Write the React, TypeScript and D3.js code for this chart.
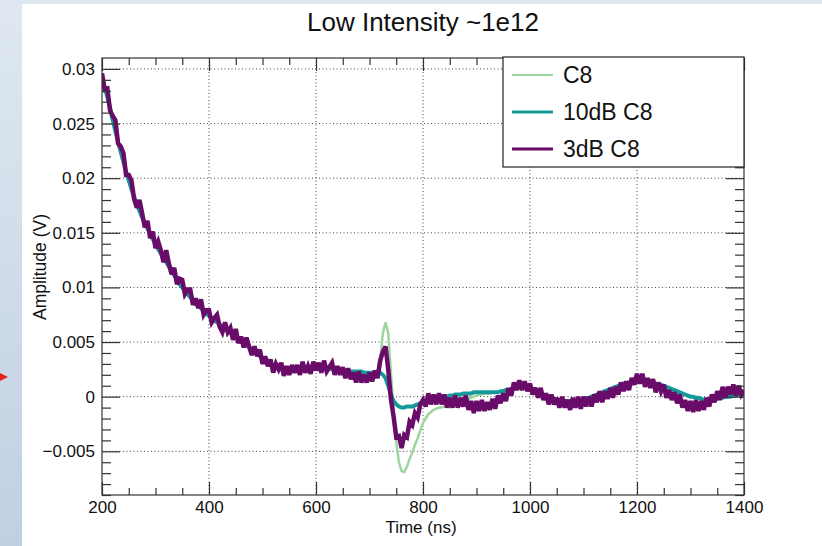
import { useEffect, useRef } from "react";
import * as d3 from "d3";

// sample times (ns), one point every 5 ns
const timeNs = d3.range(200, 1401, 5);

// C8 (plain)
const c8 = [
  .0292, .0283, .0274, .0265, .0253, .0243, .0233, .0224, .0215, .0206,
  .0198, .0190, .0183, .0176, .0170, .0164, .0159, .0154, .0149, .0144,
  .0140, .0135, .0131, .0127, .0123, .0119, .0115, .0111, .0107, .0103,
  .0100, .0097, .0094, .0091, .0088, .0085, .0083, .0081, .0078, .0076,
  .0074, .0072, .0070, .0068, .0066, .0064, .0062, .0060, .0058, .0056,
  .0054, .0052, .0051, .0049, .0047, .0045, .0043, .0041, .0039, .0037,
  .0035, .0033, .0031, .0029, .0028, .0027, .0026, .0025, .0024, .0024,
  .0024, .0024, .0024, .0025, .0025, .0025, .0026, .0026, .0026, .0026,
  .0026, .0026, .0026, .0026, .0026, .0026, .0025, .0025, .0025, .0024,
  .0024, .0024, .0024, .0023, .0023, .0023, .0023, .0023, .0022, .0022,
  .0022, .0022, .0022, .0024, .0035, .0058, .0068, .0058, .0022, -.0012,
  -.0042, -.0060, -.0068, -.0069, -.0064, -.0057, -.0051, -.0044, -.0038, -.0031,
  -.0024, -.0020, -.0016, -.0014, -.0012, -.0011, -.0010, -.0010, -.0009, -.0009,
  -.0009, -.0008, -.0007, -.0006, -.0005, -.0004, -.0003, -.0002, -.0001, 0,
  .0001, .0002, .0002, .0003, .0003, .0003, .0004, .0004, .0004, .0005,
  .0005, .0006, .0006, .0007, .0008, .0008, .0009, .0009, .0009, .0009,
  .0008, .0007, .0006, .0005, .0004, .0002, .0001, 0, -.0001, -.0002,
  -.0003, -.0003, -.0004, -.0004, -.0004, -.0004, -.0004, -.0004, -.0003, -.0003,
  -.0002, -.0002, -.0001, 0, .0001, .0002, .0003, .0004, .0005, .0006,
  .0007, .0008, .0009, .0010, .0011, .0012, .0012, .0013, .0013, .0014,
  .0014, .0014, .0014, .0014, .0013, .0013, .0012, .0012, .0011, .0011,
  .0010, .0009, .0008, .0007, .0006, .0005, .0004, .0003, .0002, .0001,
  0, 0, -.0001, -.0001, -.0002, -.0003, -.0003, -.0003, -.0003, -.0002,
  -.0002, -.0001, -.0001, 0, 0, 0, .0001, .0001, .0002, .0002,
  .0002,
];

// 10dB C8
const c8Att10 = [
  .0292, .0283, .0274, .0265, .0253, .0243, .0233, .0224, .0215, .0206,
  .0198, .0190, .0183, .0176, .0170, .0164, .0159, .0154, .0149, .0144,
  .0140, .0135, .0131, .0127, .0123, .0119, .0115, .0111, .0107, .0103,
  .0100, .0097, .0094, .0091, .0088, .0085, .0083, .0081, .0078, .0076,
  .0074, .0072, .0070, .0068, .0066, .0064, .0062, .0060, .0058, .0056,
  .0054, .0052, .0051, .0049, .0047, .0045, .0043, .0041, .0039, .0037,
  .0035, .0033, .0031, .0029, .0028, .0027, .0026, .0025, .0024, .0024,
  .0024, .0024, .0024, .0025, .0025, .0025, .0026, .0026, .0026, .0026,
  .0026, .0026, .0026, .0026, .0026, .0026, .0025, .0025, .0025, .0024,
  .0024, .0024, .0024, .0023, .0023, .0023, .0023, .0023, .0022, .0022,
  .0022, .0022, .0022, .0022, .0022, .0020, .0017, .0010, .0002, -.0004,
  -.0007, -.0009, -.0010, -.0010, -.0009, -.0009, -.0009, -.0008, -.0007, -.0006,
  -.0005, -.0004, -.0004, -.0003, -.0002, -.0002, -.0001, -.0001, 0, 0,
  .0001, .0001, .0002, .0002, .0002, .0003, .0003, .0003, .0003, .0004,
  .0004, .0004, .0004, .0004, .0004, .0004, .0004, .0004, .0004, .0005,
  .0005, .0006, .0006, .0007, .0008, .0008, .0009, .0009, .0009, .0009,
  .0008, .0007, .0006, .0005, .0004, .0002, .0001, 0, -.0001, -.0002,
  -.0003, -.0003, -.0004, -.0004, -.0004, -.0004, -.0004, -.0004, -.0003, -.0003,
  -.0002, -.0002, -.0001, 0, .0001, .0002, .0003, .0004, .0005, .0006,
  .0007, .0008, .0009, .0010, .0011, .0012, .0012, .0013, .0013, .0014,
  .0014, .0014, .0014, .0014, .0013, .0013, .0012, .0012, .0011, .0011,
  .0010, .0009, .0008, .0007, .0006, .0005, .0004, .0003, .0002, .0001,
  0, 0, -.0001, -.0001, -.0002, -.0003, -.0003, -.0003, -.0003, -.0002,
  -.0002, -.0001, -.0001, 0, 0, 0, .0001, .0001, .0002, .0002,
  .0002,
];

// 3dB C8 (noisy)
const c8Att3 = [
  .0296, .0281, .0282, .0262, .0257, .0253, .0232, .0229, .0223, .0203,
  .0203, .0198, .0181, .0173, .0180, .0168, .0155, .0161, .0145, .0151,
  .0136, .0142, .0134, .0123, .0134, .0122, .0112, .0118, .0103, .0108,
  .0107, .0094, .0098, .0098, .0084, .0090, .0081, .0089, .0075, .0079,
  .0079, .0068, .0072, .0075, .0064, .0059, .0068, .0059, .0063, .0052,
  .0062, .0049, .0055, .0045, .0054, .0046, .0038, .0046, .0037, .0043,
  .0030, .0037, .0028, .0034, .0022, .0030, .0025, .0031, .0019, .0028,
  .0020, .0029, .0022, .0029, .0020, .0032, .0022, .0028, .0021, .0032,
  .0024, .0031, .0022, .0033, .0023, .0027, .0031, .0020, .0028, .0020,
  .0027, .0017, .0026, .0016, .0022, .0013, .0023, .0013, .0020, .0013,
  .0022, .0014, .0024, .0017, .0033, .0041, .0046, .0025, -.0002, -.0018,
  -.0037, -.0036, -.0047, -.0035, -.0037, -.0023, -.0026, -.0015, -.0019, -.0007,
  -.0003, -.0009, .0003, -.0007, .0002, -.0007, .0003, -.0007, .0002, -.0010,
  -.0001, -.0010, .0001, -.0010, -.0001, -.0009, .0001, -.0012, -.0004, -.0015,
  -.0004, -.0013, -.0003, -.0013, -.0005, -.0012, -.0002, -.0011, .0001, -.0006,
  .0003, -.0004, .0008, .0001, .0013, .0006, .0015, .0006, .0014, .0005,
  .0012, .0002, .0008, -.0001, .0008, -.0003, .0003, -.0007, .0002, -.0007,
  -.0001, -.0010, 0, -.0010, -.0003, -.0012, -.0001, -.0010, 0, -.0011,
  0, -.0009, 0, -.0009, .0002, -.0005, .0005, -.0005, .0005, -.0002,
  .0008, -.0001, .0009, .0002, .0013, .0005, .0014, .0006, .0017, .0011,
  .0021, .0012, .0021, .0009, .0017, .0008, .0016, .0004, .0013, .0005,
  .0011, -.0001, .0006, -.0003, .0004, -.0006, .0002, -.0010, -.0003, -.0013,
  -.0004, -.0014, -.0003, -.0013, -.0004, -.0012, -.0001, -.0009, .0002, -.0005,
  .0005, -.0003, .0009, -.0001, .0009, .0002, .0011, .0001, .0010, .0002,
  .0006,
];

const seriesNames = ["C8", "10dB C8", "3dB C8"];
const seriesValues = [c8, c8Att10, c8Att3];
const seriesColors = ["#9dd59f", "#14999a", "#690b69"];
const seriesWidths = [2.5, 4, 4.5];
const legendWidths = [2, 3, 3];

const xMajorTicks = [200, 400, 600, 800, 1000, 1200, 1400];
const xTickLabels = ["200", "400", "600", "800", "1000", "1200", "1400"];
const yMajorTicks = [-0.005, 0, 0.005, 0.01, 0.015, 0.02, 0.025, 0.03];
const yTickLabels = ["\u22120.005", "0", "0.005", "0.01", "0.015", "0.02", "0.025", "0.03"];

const W = 822;
const H = 546;
const FONT = "'Liberation Sans', Arial, Helvetica, sans-serif";

const App = () => {
  const svgRef = useRef<SVGSVGElement>(null);

  useEffect(() => {
    const svg = d3.select(svgRef.current);
    svg.selectAll("*").remove();

    const left = 102, right = 744, top = 58, bottom = 495;

    // background (window chrome strip + white canvas)
    const defs = svg.append("defs");
    const grad = defs
      .append("linearGradient")
      .attr("id", "chrome")
      .attr("x1", 0).attr("y1", 0).attr("x2", 0).attr("y2", 1);
    grad.append("stop").attr("offset", "0%").attr("stop-color", "#dfe8f1");
    grad.append("stop").attr("offset", "100%").attr("stop-color", "#c0d0e1");
    defs
      .append("clipPath")
      .attr("id", "frame-clip")
      .append("rect")
      .attr("x", left).attr("y", top)
      .attr("width", right - left).attr("height", bottom - top);

    svg.append("rect").attr("width", W).attr("height", H).attr("fill", "url(#chrome)");
    svg.append("rect").attr("x", 22).attr("y", 4).attr("width", W - 22).attr("height", H - 4).attr("fill", "#fff");
    svg.append("path").attr("d", "M0,373 L8,377 L0,381 Z").attr("fill", "#e5251b");

    // scales
    const xScale = d3.scaleLinear().domain([200, 1400]).range([left, right]);
    const yScale = d3.scaleLinear().domain([-0.009, 0.031]).range([bottom, top]);

    // grid
    const grid = svg.append("g").attr("stroke", "#444").attr("stroke-width", 1).attr("stroke-dasharray", "1 2.5");
    grid
      .selectAll(".gx")
      .data(xMajorTicks.slice(1, -1))
      .join("line")
      .attr("x1", (d) => xScale(d)).attr("x2", (d) => xScale(d))
      .attr("y1", top).attr("y2", bottom);
    grid
      .selectAll(".gy")
      .data(yMajorTicks)
      .join("line")
      .attr("x1", left).attr("x2", right)
      .attr("y1", (d) => yScale(d)).attr("y2", (d) => yScale(d));

    // curves
    const line = d3
      .line<number>()
      .x((d, i) => xScale(timeNs[i]))
      .y((d) => yScale(d));
    svg
      .append("g")
      .attr("clip-path", "url(#frame-clip)")
      .selectAll("path")
      .data(seriesValues)
      .join("path")
      .attr("d", (d) => line(d))
      .attr("fill", "none")
      .attr("stroke", (d, i) => seriesColors[i])
      .attr("stroke-width", (d, i) => seriesWidths[i])
      .attr("stroke-linejoin", "miter")
      .attr("stroke-miterlimit", 3);

    // axes (ticks point inward, ROOT style)
    const xMinor = d3.range(200, 1401, 50).filter((v) => v % 200 !== 0);
    const yMinor = d3.range(-9, 31).filter((v) => v % 5 !== 0).map((v) => v / 1000);
    const styleAxis = (g: any) => {
      g.select(".domain").remove();
      g.selectAll("line").attr("stroke", "#333").attr("stroke-width", 1.2);
      g.selectAll("text").attr("fill", "#111").attr("font-size", 17).attr("font-family", FONT);
    };

    svg.append("g").attr("transform", `translate(0,${bottom})`)
      .call(d3.axisBottom(xScale).tickValues(xMajorTicks).tickSizeInner(-13).tickSizeOuter(0).tickPadding(6)
        .tickFormat((d, i) => xTickLabels[i]))
      .call(styleAxis);
    svg.append("g").attr("transform", `translate(0,${bottom})`)
      .call(d3.axisBottom(xScale).tickValues(xMinor).tickSizeInner(-7).tickSizeOuter(0).tickFormat(() => ""))
      .call(styleAxis);
    svg.append("g").attr("transform", `translate(0,${top})`)
      .call(d3.axisTop(xScale).tickValues(xMajorTicks).tickSizeInner(-13).tickSizeOuter(0).tickFormat(() => ""))
      .call(styleAxis);
    svg.append("g").attr("transform", `translate(0,${top})`)
      .call(d3.axisTop(xScale).tickValues(xMinor).tickSizeInner(-7).tickSizeOuter(0).tickFormat(() => ""))
      .call(styleAxis);

    svg.append("g").attr("transform", `translate(${left},0)`)
      .call(d3.axisLeft(yScale).tickValues(yMajorTicks).tickSizeInner(-18).tickSizeOuter(0).tickPadding(7)
        .tickFormat((d, i) => yTickLabels[i]))
      .call(styleAxis);
    svg.append("g").attr("transform", `translate(${left},0)`)
      .call(d3.axisLeft(yScale).tickValues(yMinor).tickSizeInner(-9).tickSizeOuter(0).tickFormat(() => ""))
      .call(styleAxis);
    svg.append("g").attr("transform", `translate(${right},0)`)
      .call(d3.axisRight(yScale).tickValues(yMajorTicks).tickSizeInner(-18).tickSizeOuter(0).tickFormat(() => ""))
      .call(styleAxis);
    svg.append("g").attr("transform", `translate(${right},0)`)
      .call(d3.axisRight(yScale).tickValues(yMinor).tickSizeInner(-9).tickSizeOuter(0).tickFormat(() => ""))
      .call(styleAxis);

    // frame
    svg.append("rect")
      .attr("x", left).attr("y", top)
      .attr("width", right - left).attr("height", bottom - top)
      .attr("fill", "none").attr("stroke", "#333").attr("stroke-width", 1.2);

    // titles
    svg.append("text")
      .attr("x", 423).attr("y", 31)
      .attr("text-anchor", "middle")
      .attr("font-family", FONT).attr("font-size", 26).attr("fill", "#111")
      .text("Low Intensity ~1e12");
    svg.append("text")
      .attr("x", 421).attr("y", 533)
      .attr("text-anchor", "middle")
      .attr("font-family", FONT).attr("font-size", 17).attr("fill", "#111")
      .text("Time (ns)");
    svg.append("text")
      .attr("transform", "translate(46,267) rotate(-90)")
      .attr("text-anchor", "middle")
      .attr("font-family", FONT).attr("font-size", 17.5).attr("fill", "#111")
      .text("Amplitude (V)");

    // legend
    const legend = svg.append("g");
    legend.append("rect")
      .attr("x", 503).attr("y", 57).attr("width", 241).attr("height", 110)
      .attr("fill", "#fff").attr("stroke", "#222").attr("stroke-width", 1.2);
    const rows = legend
      .selectAll(".row")
      .data(seriesNames)
      .join("g")
      .attr("transform", (d, i) => `translate(0,${75 + i * 37})`);
    rows.append("line")
      .attr("x1", 512).attr("x2", 553)
      .attr("stroke", (d, i) => seriesColors[i])
      .attr("stroke-width", (d, i) => legendWidths[i]);
    rows.append("text")
      .attr("x", 563).attr("y", 8)
      .attr("font-family", FONT).attr("font-size", 23).attr("fill", "#111")
      .text((d) => d);
  }, []);

  return (
    <svg
      ref={svgRef}
      width={W}
      height={H}
      style={{ position: "absolute", left: 0, top: 0 }}
    ></svg>
  );
};

export default App;
